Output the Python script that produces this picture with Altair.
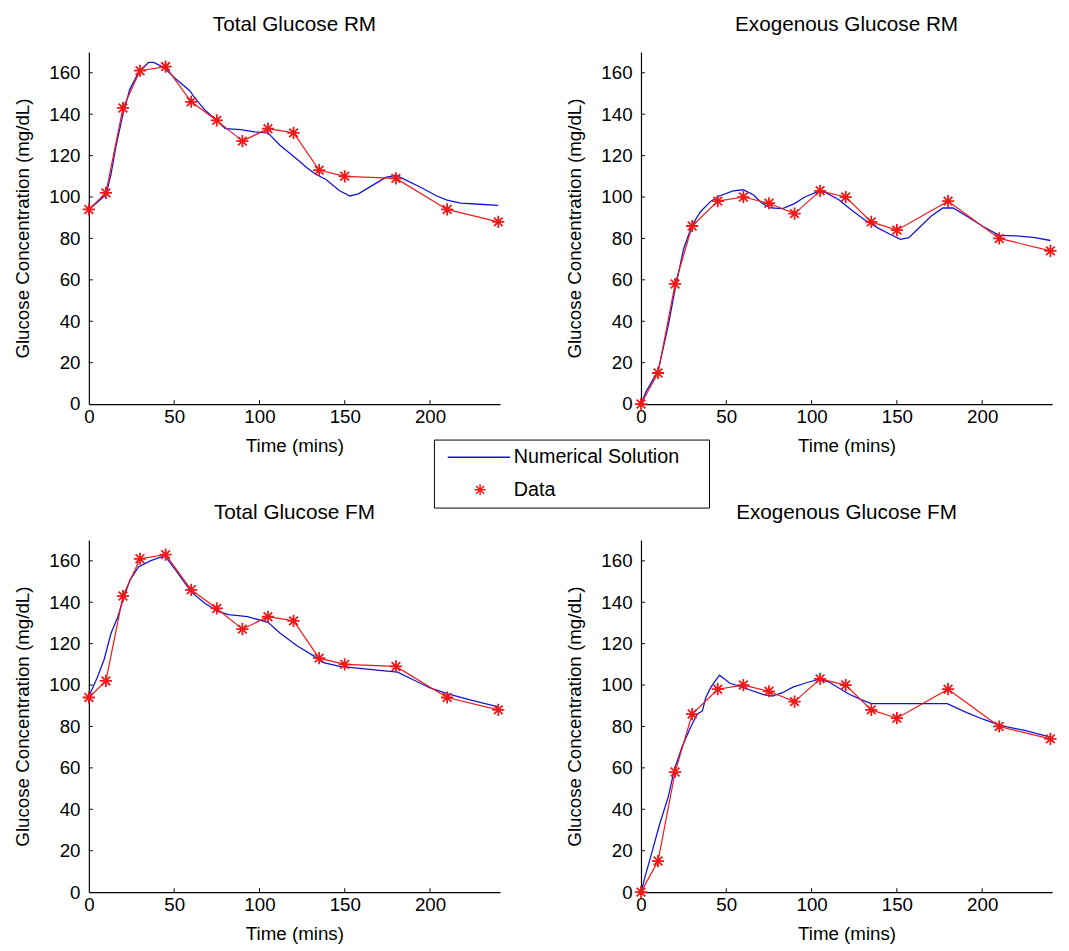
import altair as alt
import pandas as pd

# ---------------- data ----------------
T_DATA = [0, 10, 20, 30, 45, 60, 75, 90, 105, 120, 135, 150, 180, 210, 240]
TOTAL_DATA = [94, 102, 143, 161, 163, 146, 137, 127, 133, 131, 113, 110, 109, 94, 88]
EXO_DATA = [0, 15, 58, 86, 98, 100, 97, 92, 103, 100, 88, 84, 98, 80, 74]

T_TRM = [0, 10, 13, 16, 20, 24, 29, 35, 38, 44, 51, 59, 62, 68, 75, 80, 89, 97, 105,
         112, 121, 128, 133, 139, 147, 153, 158, 166, 174, 180, 185, 195, 204, 210,
         218, 229, 240]
V_TRM = [94, 101, 111, 125, 140, 152, 160, 165, 165, 162.5, 157, 151.5, 148, 142, 137,
         133, 132.5, 131.5, 131, 125, 119, 114, 111, 108.5, 103, 100.5, 101.5, 105.5,
         109.5, 110.5, 108.5, 104.5, 100.5, 98.5, 97, 96.5, 96]

T_ERM = [0, 3, 10, 16, 20, 25, 30, 35, 41, 46, 54, 60, 66, 71, 76, 83, 90, 96, 104, 108,
         116, 123, 131, 139, 146, 152, 157, 162, 170, 177, 183, 191, 200, 210, 220, 231, 240]
V_ERM = [0, 6, 16, 38, 55.5, 75, 86.5, 93, 98, 100.5, 103, 103.5, 101, 97, 94.7, 94.4,
         96.8, 100, 102.7, 102.2, 98.7, 94, 89, 85, 82, 79.6, 80.4, 84.3, 90.7, 94.7,
         94.7, 90.7, 86, 81.5, 81.2, 80.4, 79]

T_TFM = [0, 5, 9, 13, 17, 20, 24, 29, 36, 44.5, 51, 60, 68, 76, 82, 93, 105, 112, 122,
         132, 137, 147, 166, 181, 191, 200, 210, 224, 240]
V_TFM = [94.5, 103.8, 112.5, 125, 133, 141, 150.6, 157, 160, 162.5, 155.4, 145, 139.5,
         135.5, 134, 133, 130.3, 125.2, 119, 114, 111, 109, 107.5, 106.2, 102.2, 98.6,
         95.9, 92.7, 89.5]

T_EFM = [0, 3, 6, 11, 16, 19.5, 24, 29, 33, 36, 38, 41, 46, 52, 60, 71.5, 77, 83, 89,
         96.5, 104, 110, 121.5, 129, 135, 179.5, 191, 200.5, 211, 225.5, 240]
V_EFM = [0, 9.3, 18, 33, 46, 59, 70, 79.5, 86, 87.5, 94, 99, 104.8, 101, 98.7, 95.5,
         94.7, 96.3, 99, 101, 102.7, 101.6, 95.8, 93, 91, 91, 86.7, 83.5, 80.4, 78, 74.8]

X_TICKS = [0, 50, 100, 150, 200]
Y_TICKS = [0, 20, 40, 60, 80, 100, 120, 140, 160]
SERIES = ["Numerical Solution", "Data"]

# ---------------- style ----------------
FONT = "Liberation Sans"
BLUE = "#1414d8"
RED = "#f01818"
STAR = "M-0.19,0L0.19,0M0,-0.19L0,0.19M-0.135,-0.135L0.135,0.135M-0.135,0.135L0.135,-0.135"
# legend-only symbols (symbol size 256 -> unit = 8px)
LEG_LINE = "M-0.5,0L7.4,0"
LEG_STAR = "M2.9,0L4.3,0M3.6,-0.7L3.6,0.7M3.1,-0.5L4.1,0.5M3.1,0.5L4.1,-0.5"
W, H = 417, 357
XMAX, YMAX = 241, 170
FS = 19


def panel(title, t_model, v_model, data_vals, show_legend=False):
    model_df = pd.DataFrame({"t": t_model, "v": v_model})
    data_df = pd.DataFrame({"t": T_DATA, "v": data_vals, "s": ["Data"] * len(T_DATA)})
    xt_df = pd.DataFrame({"t": X_TICKS[1:]})
    yt_df = pd.DataFrame({"v": Y_TICKS[1:]})

    xs = alt.Scale(domain=[0, XMAX], nice=False, zero=False)
    ys = alt.Scale(domain=[0, YMAX], nice=False, zero=False)
    xaxis = alt.Axis(values=X_TICKS, title="Time (mins)", grid=False, ticks=False,
                     tickSize=0, labelPadding=4, titlePadding=10, labelFlush=False,
                     domainColor="black", domainWidth=1.2, labelColor="black",
                     titleColor="black", labelFont=FONT, labelFontSize=FS,
                     titleFont=FONT, titleFontSize=FS, titleFontWeight="normal")
    yaxis = alt.Axis(values=Y_TICKS, title="Glucose Concentration (mg/dL)", grid=False,
                     ticks=False, tickSize=0, labelPadding=9, titlePadding=17,
                     labelFlush=False, domainColor="black", domainWidth=1.2,
                     labelColor="black", titleColor="black", labelFont=FONT,
                     labelFontSize=FS, titleFont=FONT, titleFontSize=FS,
                     titleFontWeight="normal")

    blue = alt.Chart(model_df).mark_line(color=BLUE, strokeWidth=1.3).encode(
        x=alt.X("t:Q", scale=xs, axis=xaxis),
        y=alt.Y("v:Q", scale=ys, axis=yaxis),
    )
    redline = alt.Chart(data_df).mark_line(color=RED, strokeWidth=1.2).encode(
        x=alt.X("t:Q", scale=xs), y=alt.Y("v:Q", scale=ys)
    )
    stars = alt.Chart(data_df).mark_point(filled=False, strokeWidth=1.8, opacity=1).encode(
        x=alt.X("t:Q", scale=xs),
        y=alt.Y("v:Q", scale=ys),
        color=alt.value(RED),
        shape=alt.value(STAR),
        size=alt.value(4225),
    )
    xt = alt.Chart(xt_df).mark_rule(color="black", strokeWidth=1).encode(
        x=alt.X("t:Q", scale=xs), y=alt.value(H), y2=alt.value(H - 4)
    )
    yt = alt.Chart(yt_df).mark_rule(color="black", strokeWidth=1).encode(
        y=alt.Y("v:Q", scale=ys), x=alt.value(0), x2=alt.value(4)
    )
    layers = [blue, redline, stars, xt, yt]
    if show_legend:
        leg = alt.Legend(orient="none", legendX=350, legendY=393,
                         title="\u00a0", titleOrient="right", titlePadding=22,
                         titleFontSize=20, titleColor="white",
                         strokeColor="black", fillColor="white", padding=8,
                         labelFont=FONT, labelFontSize=20, labelColor="black",
                         labelLimit=400,
                         symbolStrokeWidth=1.5, symbolSize=256, rowPadding=13,
                         labelOffset=53, cornerRadius=0)
        legend_layer = alt.Chart(data_df).transform_filter("false").mark_point(
            filled=False, opacity=1
        ).encode(
            color=alt.Color("s:N", scale=alt.Scale(domain=SERIES, range=[BLUE, RED]), legend=leg),
            shape=alt.Shape("s:N", scale=alt.Scale(domain=SERIES, range=[LEG_LINE, LEG_STAR]), legend=leg),
        )
        layers.append(legend_layer)
    return alt.layer(*layers).properties(
        width=W, height=H,
        title=alt.TitleParams(title, font=FONT, fontSize=21, fontWeight="normal",
                              color="black", offset=17, anchor="middle"),
    )


tl = panel("Total Glucose RM", T_TRM, V_TRM, TOTAL_DATA, show_legend=True)
tr = panel("Exogenous Glucose RM", T_ERM, V_ERM, EXO_DATA)
bl = panel("Total Glucose FM", T_TFM, V_TFM, TOTAL_DATA)
br = panel("Exogenous Glucose FM", T_EFM, V_EFM, EXO_DATA)

chart = alt.concat(
    tl, tr, bl, br,
    columns=2,
    spacing=alt.RowColnumber(row=138, column=143),
    bounds="flush",
).properties(
    padding={"left": 5, "top": 0, "right": 0, "bottom": 0}
).configure_view(strokeWidth=0, stroke="transparent")

chart.save("out.html", embed_options={"renderer": "svg", "actions": False})
